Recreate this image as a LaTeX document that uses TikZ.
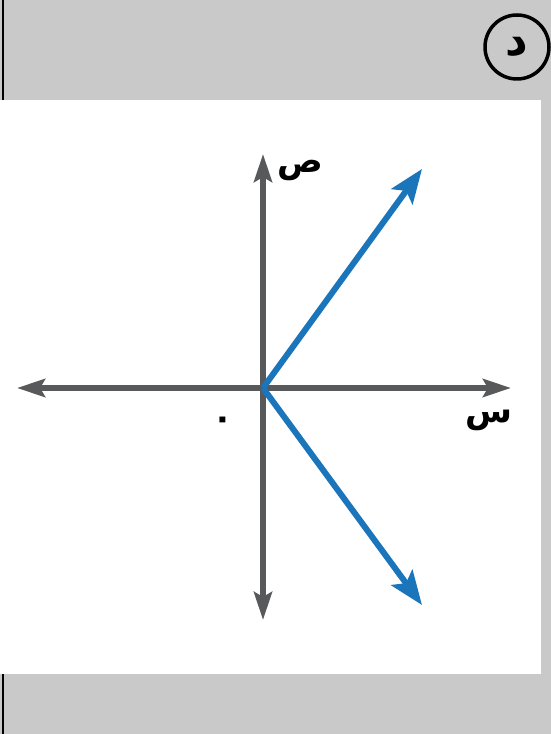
\documentclass[tikz,border=0pt]{standalone}
\usepackage{fontspec}
\usepackage{tikz}
\usetikzlibrary{arrows.meta,positioning}
\newfontfamily\arabicfont[Script=Arabic]{DejaVu Sans}
\TeXXeTstate=1
\definecolor{panelgray}{HTML}{C9C9C9}
\definecolor{axisgray}{HTML}{58595B}
\definecolor{vecblue}{HTML}{1B75BB}

\begin{document}
\begin{tikzpicture}[
  x=1pt, y=1pt,
  axis/.style={draw=axisgray, line width=5.5pt, {Stealth[length=28pt, width=18pt, inset=5pt]}-{Stealth[length=28pt, width=18pt, inset=5pt]}},
  vec/.style={draw=vecblue, line width=6pt, -{Stealth[length=34pt, width=26pt, inset=7pt]}},
  lbl/.style={font=\arabicfont\bfseries\fontsize{34}{40}\selectfont, inner sep=0pt}
]
\useasboundingbox (0,0) rectangle (551,734);
\fill[panelgray] (0,0) rectangle (551,734);
\fill[white] (0,60) rectangle (541,634);
\draw[black, line width=2pt] (3,634) -- (3,734);
\draw[black, line width=2pt] (3,0) -- (3,60);
% part label
\node[circle, draw=black, line width=3.5pt, minimum size=64pt, inner sep=0pt] (tag) at (517,687) {};
\node[lbl, font=\arabicfont\bfseries\fontsize{44}{50}\selectfont] (tagtxt) at (tag) {\beginR د\endR};
% axes
\coordinate (O) at (263,346);
\coordinate (xl) at (17,346);
\coordinate (xr) at (511,346);
\coordinate (yt) at (263,580);
\coordinate (yb) at (263,114);
\draw[axis] (xl) -- (xr);
\draw[axis] (yb) -- (yt);
% vectors
\coordinate (vup) at (422,565);
\coordinate (vdn) at (422,129);
\draw[vec] (O) -- (vup);
\draw[vec] (O) -- (vdn);
% labels
\node[lbl] (ylbl) at (300,563) {\beginR ص\endR};
\node[lbl] (xlbl) at (489,314) {\beginR س\endR};
\node[lbl] (zero) at (223,311) {٠};
\end{tikzpicture}
\end{document}
